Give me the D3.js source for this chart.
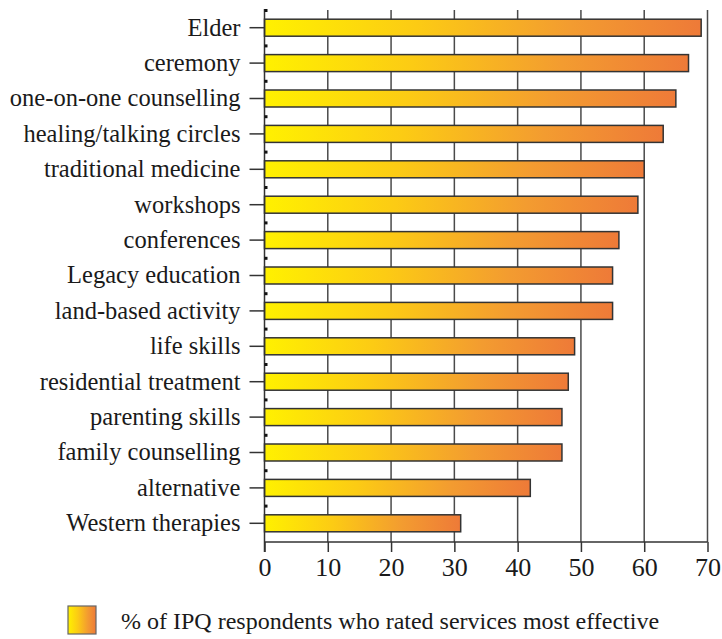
<!DOCTYPE html>
<html><head><meta charset="utf-8">
<script src="https://cdn.jsdelivr.net/npm/d3@7"></script>
<style>body{margin:0;background:#fff}svg{display:block}</style>
</head><body>
<script>
const categories = ["Elder","ceremony","one-on-one counselling","healing/talking circles","traditional medicine","workshops","conferences","Legacy education","land-based activity","life skills","residential treatment","parenting skills","family counselling","alternative ","Western therapies"];
const values = [69,67,65,63,60,59,56,55,55,49,48,47,47,42,31];
const tickValues = [0,10,20,30,40,50,60,70];
const legendLabel = "% of IPQ respondents who rated services most effective";

const W = 722, H = 639;
const svg = d3.select("body").append("svg").attr("width", W).attr("height", H);
const font = "'Liberation Serif', 'Times New Roman', serif";

const defs = svg.append("defs");
const grad = defs.append("linearGradient").attr("id","g").attr("x1","0").attr("x2","1").attr("y1","0").attr("y2","0");
[[0,"#FFF100"],[0.35,"#FCCB14"],[0.7,"#F39C30"],[1,"#EE7A38"]].forEach(([o,c])=>grad.append("stop").attr("offset",o).attr("stop-color",c));

const x = d3.scaleLinear().domain([0,70]).range([264.5,707.5]);
const y = d3.scaleBand().domain(categories).range([10,541]).paddingInner(0.52).paddingOuter(0.26);

// gridlines
svg.append("g").selectAll("line").data(tickValues.slice(1)).join("line")
  .attr("x1",d=>x(d)).attr("x2",d=>x(d)).attr("y1",10).attr("y2",542)
  .attr("stroke","#4a4a4a").attr("stroke-width",1.5);

// bars
svg.append("g").selectAll("rect").data(categories).join("rect")
  .attr("x",x(0)).attr("y",d=>y(d)).attr("height",y.bandwidth())
  .attr("width",(d,i)=>x(values[i])-x(0))
  .attr("fill","url(#g)").attr("stroke","#333").attr("stroke-width",1.5);

// left axis line
svg.append("line").attr("x1",x(0)).attr("x2",x(0)).attr("y1",9).attr("y2",552)
  .attr("stroke","#333").attr("stroke-width",1.5);

// minor tick squares at band boundaries
const step = (541-10)/categories.length;
svg.append("g").selectAll("rect").data(d3.range(categories.length)).join("rect")
  .attr("x",x(0)).attr("y",d=>10+d*step-1).attr("width",3).attr("height",3).attr("fill","#111");

// category ticks and labels
const yAxis = svg.append("g").attr("transform",`translate(${x(0)},0)`)
  .call(d3.axisLeft(y).tickSize(15).tickPadding(9));
yAxis.select(".domain").remove();
yAxis.selectAll(".tick line").attr("stroke","#333").attr("stroke-width",1.5);
yAxis.selectAll(".tick text").attr("font-family",font).attr("font-size",24.5).attr("fill","#1a1a1a");

// bottom axis
const xAxis = svg.append("g").attr("transform","translate(0,542)")
  .call(d3.axisBottom(x).tickValues(tickValues).tickSize(10).tickPadding(6).tickFormat(d3.format("d")));
xAxis.select(".domain").attr("d",`M${x(0)},0H${x(70)}`).attr("stroke","#333").attr("stroke-width",1.5);
xAxis.selectAll(".tick line").attr("stroke","#333").attr("stroke-width",1.5);
xAxis.selectAll(".tick text").attr("font-family",font).attr("font-size",26).attr("fill","#1a1a1a");

// legend
const lg = svg.append("g");
lg.append("rect").attr("x",68).attr("y",606).attr("width",28).attr("height",28)
  .attr("fill","url(#g)").attr("stroke","#666").attr("stroke-width",1.2);
lg.append("text").attr("x",121).attr("y",629).attr("font-family",font).attr("font-size",24).attr("fill","#1a1a1a").text(legendLabel);
</script>
</body></html>
